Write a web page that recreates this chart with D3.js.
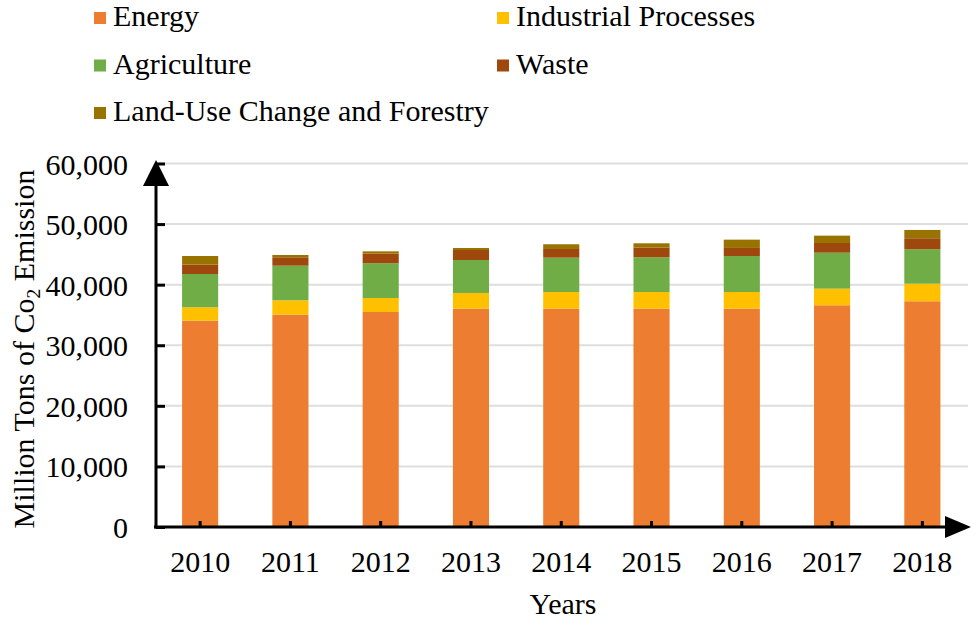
<!DOCTYPE html>
<html>
<head>
<meta charset="utf-8">
<script src="https://cdn.jsdelivr.net/npm/d3@7"></script>
<style>
  html, body { margin: 0; padding: 0; background: #fff; }
  svg { display: block; font-family: "Liberation Serif", "Times New Roman", serif; }
</style>
</head>
<body>
<svg id="chart" width="980" height="625"></svg>
<script>
const years = ["2010", "2011", "2012", "2013", "2014", "2015", "2016", "2017", "2018"];
const energy      = [34060, 35050, 35490, 36040, 36040, 36040, 36040, 36600, 37260];
const industrial  = [2210, 2370, 2310, 2590, 2750, 2750, 2750, 2740, 2900];
const agriculture = [5490, 5710, 5730, 5440, 5670, 5730, 5940, 5940, 5680];
const waste       = [1540, 1390, 1590, 1650, 1430, 1590, 1330, 1600, 1820];
const landUse     = [1430, 380, 380, 330, 780, 720, 1370, 1210, 1370];
const seriesNames = ["Energy", "Industrial Processes", "Agriculture", "Waste", "Land-Use Change and Forestry"];
const seriesColors = ["#ED7D31", "#FFC000", "#70AD47", "#9E480E", "#997300"];
const yTicks = [0, 10000, 20000, 30000, 40000, 50000, 60000];

const seriesValues = [energy, industrial, agriculture, waste, landUse];
const table = years.map((yr, i) => {
  const row = { year: yr };
  seriesNames.forEach((n, s) => row[n] = seriesValues[s][i]);
  return row;
});

const svg = d3.select("#chart");
const FS = 30;
const x0 = 155, x1 = 967.5, yBase = 527, yTop = 163.5;

const x = d3.scaleBand().domain(years).range([x0, x1]).paddingInner(0.6).paddingOuter(0.3);
const y = d3.scaleLinear().domain([0, 60000]).range([yBase, yTop]);

// gridlines
svg.append("g").selectAll("line").data(yTicks.filter(d => d > 0)).join("line")
  .attr("x1", x0).attr("x2", 968)
  .attr("y1", d => y(d)).attr("y2", d => y(d))
  .attr("stroke", "#dedede").attr("stroke-width", 2);

// stacked bars
const stack = d3.stack().keys(seriesNames)(table);
svg.append("g").selectAll("g").data(stack).join("g")
  .attr("fill", (d, i) => seriesColors[i])
  .selectAll("rect").data(d => d).join("rect")
  .attr("x", d => x(d.data.year))
  .attr("width", x.bandwidth())
  .attr("y", d => y(d[1]))
  .attr("height", d => y(d[0]) - y(d[1]));

// y axis
const yAxis = svg.append("g").attr("transform", `translate(${x0 + 1},0)`)
  .call(d3.axisLeft(y).tickValues(yTicks).tickFormat(d3.format(",")).tickSize(-9).tickPadding(28));
yAxis.select(".domain").remove();
yAxis.selectAll(".tick line").attr("stroke", "#000").attr("stroke-width", 3);
yAxis.selectAll(".tick text").attr("font-size", FS).attr("font-family", "Liberation Serif")
  .attr("fill", "#000").attr("dy", "0.35em");

// x axis
const xAxis = svg.append("g").attr("transform", `translate(0,${yBase})`)
  .call(d3.axisBottom(x).tickSize(-6).tickPadding(20));
xAxis.select(".domain").remove();
xAxis.selectAll(".tick line").attr("stroke", "#000").attr("stroke-width", 3);
xAxis.selectAll(".tick text").attr("font-size", FS).attr("font-family", "Liberation Serif")
  .attr("fill", "#000").attr("dy", null).attr("y", 45);

// axis lines with arrows
svg.append("line").attr("x1", x0 + 1).attr("x2", x0 + 1).attr("y1", yBase + 1.5).attr("y2", 180)
  .attr("stroke", "#000").attr("stroke-width", 3);
svg.append("path").attr("d", `M${x0 + 1},160 L${x0 + 14},186 L${x0 - 12},186 Z`).attr("fill", "#000");
svg.append("line").attr("x1", x0 - 1).attr("x2", 950).attr("y1", yBase).attr("y2", yBase)
  .attr("stroke", "#000").attr("stroke-width", 3);
svg.append("path").attr("d", `M971,${yBase} L945,${yBase - 11} L945,${yBase + 11} Z`).attr("fill", "#000");

// axis titles
svg.append("text").attr("x", 563).attr("y", 614).attr("text-anchor", "middle")
  .attr("font-size", FS).attr("fill", "#000").text("Years");
const yt = svg.append("text").attr("transform", "translate(34,349) rotate(-90)")
  .attr("text-anchor", "middle").attr("font-size", FS).attr("fill", "#000");
yt.append("tspan").text("Million Tons of Co");
yt.append("tspan").attr("font-size", FS * 0.65).attr("dy", 6).text("2");
yt.append("tspan").attr("dy", -6).text(" Emission");

// legend
const legPos = [[94, 26], [497, 26], [94, 73.5], [497, 73.5], [94, 121]];
const leg = svg.append("g").selectAll("g").data(seriesNames).join("g")
  .attr("transform", (d, i) => `translate(${legPos[i][0]},${legPos[i][1]})`);
leg.append("rect").attr("x", 0).attr("y", -14).attr("width", 12).attr("height", 12)
  .attr("fill", (d, i) => seriesColors[i]);
leg.append("text").attr("x", 19).attr("y", 0).attr("font-size", FS).attr("fill", "#000").text(d => d);
</script>
</body>
</html>
